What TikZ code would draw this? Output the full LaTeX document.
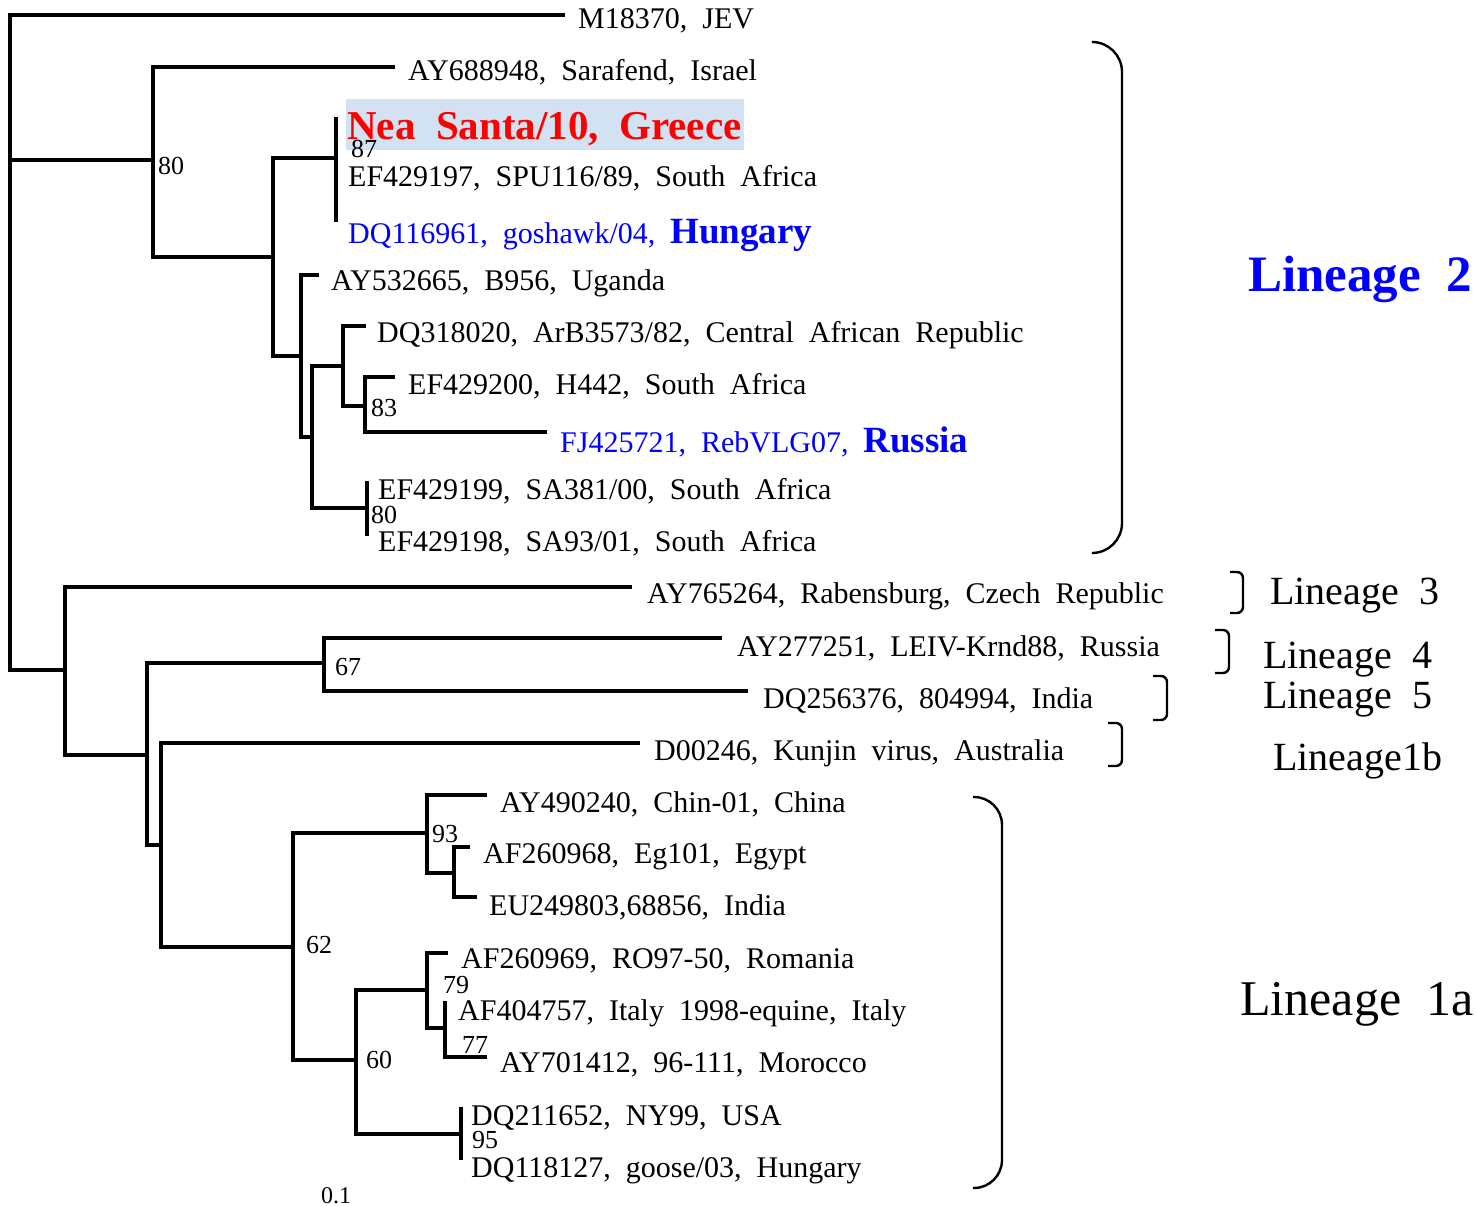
\documentclass[tikz,border=0pt]{standalone}
\usepackage{fontspec}
\setmainfont[WordSpace=2]{Liberation Serif}
\definecolor{hlblue}{RGB}{210,226,242}
\begin{document}
\begin{tikzpicture}[x=1pt,y=-1pt,
  br/.style={line width=3.2pt},
  brk/.style={line width=2.4pt},
  lab/.style={anchor=base west,inner sep=0pt,font=\fontsize{30}{36}\selectfont},
  boot/.style={anchor=base west,inner sep=0pt,font=\fontsize{26}{30}\selectfont},
  lin/.style={anchor=base west,inner sep=0pt,font=\fontsize{40}{48}\selectfont}]
\useasboundingbox (0,0) rectangle (1476,1206);

% highlight behind Nea Santa
\fill[hlblue] (346,99) rectangle (744,150);

% ---- coordinates of tree nodes and tips
\coordinate (R) at (10,160);
\coordinate (tJEV) at (565,15);
\coordinate (A) at (153,160);
\coordinate (tAY688948) at (395,67);
\coordinate (C) at (273,257);
\coordinate (D) at (336,158);
\coordinate (Dt) at (336,117);
\coordinate (Db) at (336,222);
\coordinate (E) at (301,356);
\coordinate (tAY532665) at (319,275);
\coordinate (F) at (312,437);
\coordinate (G) at (343,366);
\coordinate (tDQ318020) at (366,326);
\coordinate (I) at (365,406);
\coordinate (tEF429200) at (395,377);
\coordinate (tFJ) at (547,432);
\coordinate (H) at (367,508);
\coordinate (Ht) at (367,481);
\coordinate (Hb) at (367,536);
\coordinate (B) at (65,670);
\coordinate (tAY765264) at (632,587);
\coordinate (J) at (147,755);
\coordinate (K) at (324,663);
\coordinate (tAY277251) at (722,638);
\coordinate (tDQ256376) at (748,691);
\coordinate (L) at (161,845);
\coordinate (tD00246) at (640,743);
\coordinate (M) at (293,947);
\coordinate (N) at (427,833);
\coordinate (tAY490240) at (487,795);
\coordinate (P) at (454,873);
\coordinate (tAF260968) at (470,847);
\coordinate (tEU) at (477,897);
\coordinate (O) at (356,1060);
\coordinate (Q) at (427,990);
\coordinate (tAF260969) at (448,953);
\coordinate (T) at (445,1028);
\coordinate (tAF404757) at (447,1003);
\coordinate (tAY701412) at (487,1057);
\coordinate (S) at (461,1134);
\coordinate (St) at (461,1107);
\coordinate (Sb) at (461,1160);

% ---- branches
\draw[br] (R) |- (tJEV);
\draw[br] (R) -- (A);
\draw[br] (R) |- (B);
\draw[br] (A) |- (tAY688948);
\draw[br] (A) |- (C);
\draw[br] (C) |- (D);
\draw[br] (C) |- (E);
\draw[br] (Dt) -- (Db);
\draw[br] (E) |- (tAY532665);
\draw[br] (E) |- (F);
\draw[br] (F) |- (G);
\draw[br] (F) |- (H);
\draw[br] (G) |- (tDQ318020);
\draw[br] (G) |- (I);
\draw[br] (I) |- (tEF429200);
\draw[br] (I) |- (tFJ);
\draw[br] (Ht) -- (Hb);
\draw[br] (B) |- (tAY765264);
\draw[br] (B) |- (J);
\draw[br] (J) |- (K);
\draw[br] (J) |- (L);
\draw[br] (K) |- (tAY277251);
\draw[br] (K) |- (tDQ256376);
\draw[br] (L) |- (tD00246);
\draw[br] (L) |- (M);
\draw[br] (M) |- (N);
\draw[br] (M) |- (O);
\draw[br] (N) |- (tAY490240);
\draw[br] (N) |- (P);
\draw[br] (P) |- (tAF260968);
\draw[br] (P) |- (tEU);
\draw[br] (O) |- (Q);
\draw[br] (O) |- (S);
\draw[br] (Q) |- (tAF260969);
\draw[br] (Q) |- (T);
\draw[br] (T) |- (tAF404757);
\draw[br] (T) |- (tAY701412);
\draw[br] (St) -- (Sb);

% ---- tip labels
\node[lab] (lJEV) at (578,29) {M18370, JEV};
\node[lab] (lAY688948) at (408,81) {AY688948, Sarafend, Israel};
\node[lab,font=\bfseries\fontsize{41}{48}\selectfont,text=red] (lNea) at (347,140) {Nea Santa/10, Greece};
\node[lab] (lEF429197) at (348,187) {EF429197, SPU116/89, South Africa};
\node[lab,text=blue] (lDQ116961) at (348,244) {DQ116961, goshawk/04, {\bfseries\fontsize{37}{44}\selectfont Hungary}};
\node[lab] (lAY532665) at (331,291) {AY532665, B956, Uganda};
\node[lab] (lDQ318020) at (377,343) {DQ318020, ArB3573/82, Central African Republic};
\node[lab] (lEF429200) at (408,395) {EF429200, H442, South Africa};
\node[lab,text=blue] (lFJ) at (560,452) {FJ425721, RebVLG07, {\bfseries\fontsize{37}{44}\selectfont Russia}};
\node[lab] (lEF429199) at (378,499) {EF429199, SA381/00, South Africa};
\node[lab] (lEF429198) at (378,551) {EF429198, SA93/01, South Africa};
\node[lab] (lAY765264) at (647,603) {AY765264, Rabensburg, Czech Republic};
\node[lab] (lAY277251) at (737,656) {AY277251, LEIV-Krnd88, Russia};
\node[lab] (lDQ256376) at (763,708) {DQ256376, 804994, India};
\node[lab] (lD00246) at (654,760) {D00246, Kunjin virus, Australia};
\node[lab] (lAY490240) at (500,812) {AY490240, Chin-01, China};
\node[lab] (lAF260968) at (483,863) {AF260968, Eg101, Egypt};
\node[lab] (lEU) at (489,915) {EU249803,68856, India};
\node[lab] (lAF260969) at (461,968) {AF260969, RO97-50, Romania};
\node[lab] (lAF404757) at (458,1020) {AF404757, Italy 1998-equine, Italy};
\node[lab] (lAY701412) at (500,1072) {AY701412, 96-111, Morocco};
\node[lab] (lDQ211652) at (471,1125) {DQ211652, NY99, USA};
\node[lab] (lDQ118127) at (471,1177) {DQ118127, goose/03, Hungary};

% ---- bootstrap values
\node[boot] (b80a) at (158,175) {80};
\node[boot] (b87) at (351,158) {87};
\node[boot] (b83) at (371,417) {83};
\node[boot] (b80b) at (371,523) {80};
\node[boot] (b67) at (335,675) {67};
\node[boot] (b93) at (432,842) {93};
\node[boot] (b62) at (306,953) {62};
\node[boot] (b79) at (443,993) {79};
\node[boot] (b77) at (462,1053) {77};
\node[boot] (b60) at (366,1068) {60};
\node[boot] (b95) at (472,1148) {95};
\node[anchor=base west,inner sep=0pt,font=\fontsize{24}{28}\selectfont] (scale) at (321,1203) {0.1};

% ---- lineage brackets
\draw[brk,rounded corners=30pt] (1093,42) -- (1122,42) -- (1122,553) -- (1093,553);
\draw[brk,rounded corners=28pt] (973,797) -- (1002,797) -- (1002,1188) -- (973,1188);
\draw[brk,rounded corners=6pt] (1230,572) -- (1243,572) -- (1243,613) -- (1230,613);
\draw[brk,rounded corners=6pt] (1215,630) -- (1229,630) -- (1229,673) -- (1215,673);
\draw[brk,rounded corners=6pt] (1153,676) -- (1167,676) -- (1167,720) -- (1153,720);
\draw[brk,rounded corners=6pt] (1108,723) -- (1122,723) -- (1122,766) -- (1108,766);

% ---- lineage labels
\node[anchor=base west,inner sep=0pt,font=\bfseries\fontsize{51}{60}\selectfont,text=blue] (lin2) at (1248,292) {Lineage 2};
\node[lin] (lin3) at (1270,604) {Lineage 3};
\node[lin] (lin4) at (1263,668) {Lineage 4};
\node[lin] (lin5) at (1263,708) {Lineage 5};
\node[lin] (lin1b) at (1273,770) {Lineage1b};
\node[anchor=base west,inner sep=0pt,font=\fontsize{50}{60}\selectfont] (lin1a) at (1240,1015) {Lineage 1a};
\end{tikzpicture}
\end{document}
